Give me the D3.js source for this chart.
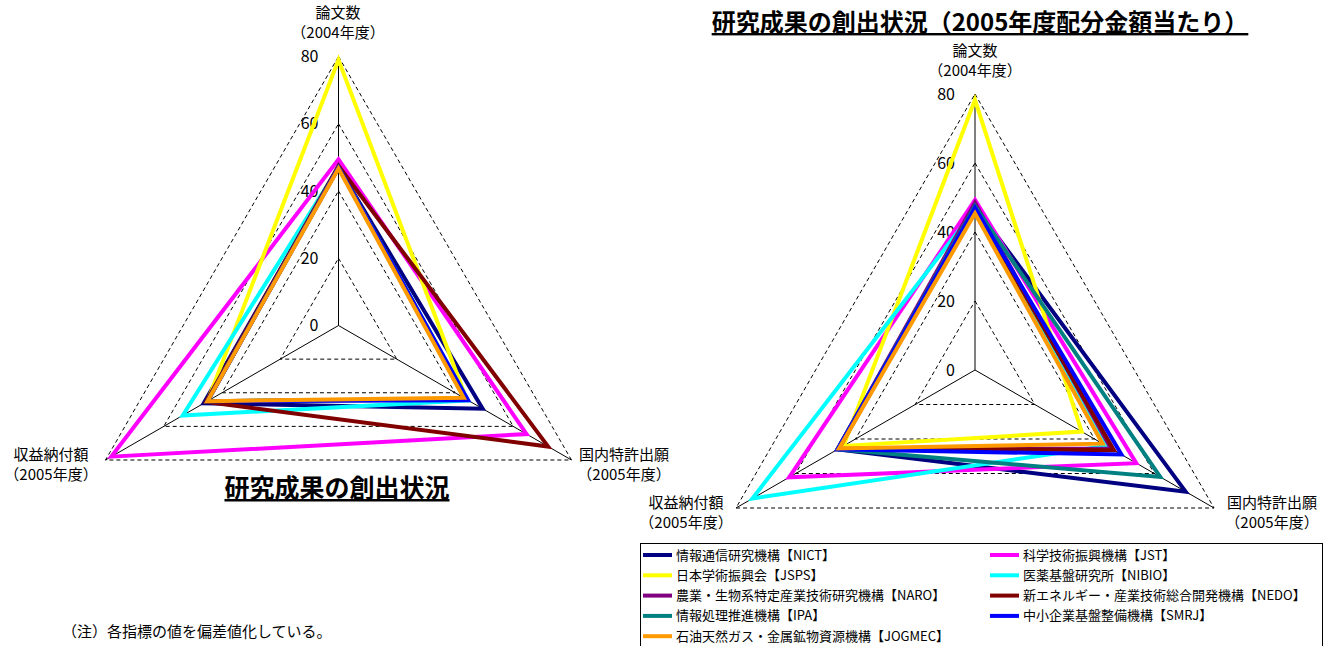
<!DOCTYPE html>
<html>
<head>
<meta charset="utf-8">
<script src="https://cdn.jsdelivr.net/npm/d3@7"></script>
<style>
body { margin: 0; background: #fff; }
text { font-family: "Noto Sans CJK JP", "Noto Sans", sans-serif; fill: #000; }
</style>
</head>
<body>
<div id="chart"></div>
<script>
// Data (values are deviation scores)

var axisNames = ["論文数", "国内特許出願", "収益納付額"];
var axisYears = ["（2004年度）", "（2005年度）", "（2005年度）"];
var ticks = [0, 20, 40, 60, 80];

var orgs = [
	"情報通信研究機構【NICT】",
	"科学技術振興機構【JST】",
	"日本学術振興会【JSPS】",
	"医薬基盤研究所【NIBIO】",
	"農業・生物系特定産業技術研究機構【NARO】",
	"新エネルギー・産業技術総合開発機構【NEDO】",
	"情報処理推進機構【IPA】",
	"中小企業基盤整備機構【SMRJ】",
	"石油天然ガス・金属鉱物資源機構【JOGMEC】"
];
var orgColors = ["#000080", "#ff00ff", "#ffff00", "#00ffff", "#800080", "#800000", "#008080", "#0000ff", "#ff9900"];

// left chart: 研究成果の創出状況
var leftPapers  = [47, 49.4, 79, 47, 47, 47.5, 47, 47, 46.7];
var leftPatents = [49.5, 64.6, 44, 44.5, 44, 72, 44, 44.5, 43];
var leftRoyalty = [46.3, 78, 45, 53.5, 45, 45.5, 45, 45, 45];

// right chart: per 2005 allocated budget
var rightPapers  = [47.5, 49.3, 78.3, 46.5, 48.5, 47, 47.5, 47, 45.4];
var rightPatents = [70.5, 54, 35.7, 44, 45.5, 46.5, 62, 49, 42.7];
var rightRoyalty = [46, 62.2, 44, 74.5, 46, 45.5, 46, 46, 45.5];

var w = 1332;
var h = 646;

var svg = d3.select("#chart")
	.append("svg")
	.attr("width", w)
	.attr("height", h);

// angle of each axis: top, lower right, lower left
var angles = [-90, 30, 150].map(function(a) { return a * Math.PI / 180; });

function drawRadar(cx, cy, radius, papers, patents, royalty, opt) {
	var r = d3.scaleLinear().domain([0, 80]).range([0, radius]);
	var g = svg.append("g");

	function pt(i, v) {
		return [cx + r(v) * Math.cos(angles[i]), cy + r(v) * Math.sin(angles[i])];
	}

	// dashed grid triangles
	g.selectAll(".grid")
		.data(ticks.slice(1))
		.enter()
		.append("polygon")
		.attr("points", function(t) {
			return [0, 1, 2].map(function(i) { return pt(i, t).join(","); }).join(" ");
		})
		.style("fill", "none")
		.style("stroke", "#000")
		.style("stroke-width", 1)
		.style("stroke-dasharray", "4,3");

	// spokes
	g.selectAll(".spoke")
		.data([0, 1, 2])
		.enter()
		.append("line")
		.attr("x1", cx).attr("y1", cy)
		.attr("x2", function(i) { return pt(i, 80)[0]; })
		.attr("y2", function(i) { return pt(i, 80)[1]; })
		.style("stroke", "#000")
		.style("stroke-width", 1);

	// tick labels along the top axis
	g.selectAll(".tick")
		.data(ticks)
		.enter()
		.append("text")
		.attr("x", cx - 20)
		.attr("y", function(t) { return cy - r(t); })
		.attr("dy", "0.35em")
		.attr("text-anchor", "end")
		.style("font-size", "16px")
		.text(function(t) { return t; });

	// series
	var rows = orgs.map(function(name, k) {
		return { name: name, color: orgColors[k], vals: [papers[k], patents[k], royalty[k]] };
	});
	var line = d3.line().curve(d3.curveLinearClosed);
	g.selectAll(".series")
		.data(rows)
		.enter()
		.append("path")
		.attr("d", function(d) {
			return line(d.vals.map(function(v, i) { return pt(i, v); }));
		})
		.style("fill", "none")
		.style("stroke", function(d) { return d.color; })
		.style("stroke-width", 4)
		.style("stroke-linejoin", "miter");

	// axis names
	opt.labels.forEach(function(p, i) {
		g.append("text")
			.attr("x", p[0]).attr("y", p[1])
			.attr("text-anchor", "middle")
			.style("font-size", "15px")
			.text(axisNames[i]);
		g.append("text")
			.attr("x", p[0]).attr("y", p[1] + 20)
			.attr("text-anchor", "middle")
			.style("font-size", "15px")
			.text(axisYears[i]);
	});
}

drawRadar(338.5, 325.5, 269, leftPapers, leftPatents, leftRoyalty,
	{ labels: [[338, 18], [624, 460], [51, 460]] });
drawRadar(975, 370, 276, rightPapers, rightPatents, rightRoyalty,
	{ labels: [[975, 56], [1272, 508], [686, 508]] });

// titles
svg.append("text")
	.attr("x", 337).attr("y", 497)
	.attr("text-anchor", "middle")
	.style("font-size", "25px")
	.style("font-weight", "bold")
	.style("text-decoration", "underline")
	.text("研究成果の創出状況");

svg.append("text")
	.attr("x", 980).attr("y", 31)
	.attr("text-anchor", "middle")
	.style("font-size", "24px")
	.style("font-weight", "bold")
	.style("text-decoration", "underline")
	.text("研究成果の創出状況（2005年度配分金額当たり）");

// legend
var legend = svg.append("g");
legend.append("rect")
	.attr("x", 640.5).attr("y", 543.5)
	.attr("width", 682).attr("height", 120)
	.style("fill", "#fff")
	.style("stroke", "#000")
	.style("stroke-width", 1);

var items = legend.selectAll(".item")
	.data(orgs)
	.enter()
	.append("g")
	.attr("transform", function(d, i) {
		var col = i % 2, row = Math.floor(i / 2);
		return "translate(" + (643 + col * 347) + "," + (555 + row * 20.3) + ")";
	});
items.append("line")
	.attr("x1", 0).attr("x2", 29)
	.attr("y1", 0).attr("y2", 0)
	.style("stroke", function(d, i) { return orgColors[i]; })
	.style("stroke-width", 4);
items.append("text")
	.attr("x", 33).attr("dy", "0.35em")
	.style("font-size", "13px")
	.text(function(d) { return d; });

// note
svg.append("text")
	.attr("x", 62).attr("y", 637)
	.style("font-size", "15px")
	.text("（注）各指標の値を偏差値化している。");
</script>
</body>
</html>
